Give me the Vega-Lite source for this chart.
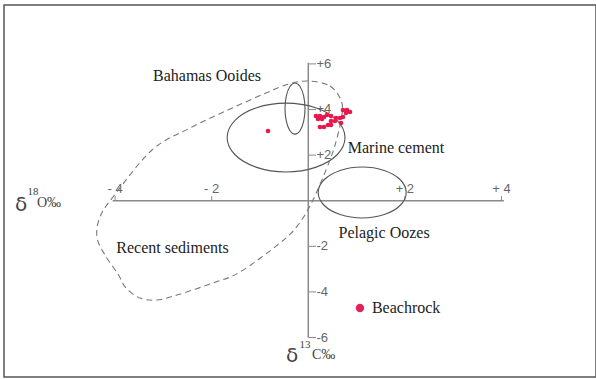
{
  "$schema": "https://vega.github.io/schema/vega-lite/v6.json",
  "width": 592,
  "height": 372,
  "autosize": "none",
  "padding": {"left": 4, "top": 5, "right": 0, "bottom": 2},
  "background": "white",
  "config": {"view": {"stroke": "#555", "strokeWidth": 1.5}},
  "datasets": {
    "axes": [
      {"x": -4.05, "x2": 4.05, "y": 0, "y2": 0},
      {"x": 0, "x2": 0, "y": 6.05, "y2": -6}
    ],
    "ticks": [
      {"x": -4, "x2": -4, "y": 0, "y2": 0.2},
      {"x": -2, "x2": -2, "y": 0, "y2": 0.2},
      {"x": 2, "x2": 2, "y": 0, "y2": 0.2},
      {"x": 4, "x2": 4, "y": 0, "y2": 0.2},
      {"x": 0, "x2": 0.16, "y": 6, "y2": 6},
      {"x": 0, "x2": 0.16, "y": 4, "y2": 4},
      {"x": 0, "x2": 0.16, "y": 2, "y2": 2},
      {"x": 0, "x2": 0.16, "y": -2, "y2": -2},
      {"x": 0, "x2": 0.16, "y": -4, "y2": -4},
      {"x": 0, "x2": 0.16, "y": -6, "y2": -6}
    ],
    "xlabels": [
      {"x": -4, "y": 0.5, "t": "- 4"},
      {"x": -2, "y": 0.5, "t": "- 2"},
      {"x": 2, "y": 0.5, "t": "+ 2"},
      {"x": 4, "y": 0.5, "t": "+ 4"}
    ],
    "ylabels": [
      {"x": 0.17, "y": 6, "t": "+6"},
      {"x": 0.17, "y": 4, "t": "+4"},
      {"x": 0.17, "y": 2, "t": "+2"},
      {"x": 0.17, "y": -2, "t": "-2"},
      {"x": 0.17, "y": -4, "t": "-4"},
      {"x": 0.17, "y": -6, "t": "-6"}
    ],
    "ellipses": [
      {"shape": "Bahamas", "i": 0, "x": -0.068, "y": 4.04},
      {"shape": "Bahamas", "i": 1, "x": -0.096, "y": 4.6},
      {"shape": "Bahamas", "i": 2, "x": -0.171, "y": 5.01},
      {"shape": "Bahamas", "i": 3, "x": -0.275, "y": 5.16},
      {"shape": "Bahamas", "i": 4, "x": -0.379, "y": 5.01},
      {"shape": "Bahamas", "i": 5, "x": -0.454, "y": 4.6},
      {"shape": "Bahamas", "i": 6, "x": -0.482, "y": 4.04},
      {"shape": "Bahamas", "i": 7, "x": -0.454, "y": 3.48},
      {"shape": "Bahamas", "i": 8, "x": -0.379, "y": 3.07},
      {"shape": "Bahamas", "i": 9, "x": -0.275, "y": 2.92},
      {"shape": "Bahamas", "i": 10, "x": -0.171, "y": 3.07},
      {"shape": "Bahamas", "i": 11, "x": -0.096, "y": 3.48},
      {"shape": "Marine", "i": 0, "x": 0.76, "y": 2.77},
      {"shape": "Marine", "i": 1, "x": 0.597, "y": 3.525},
      {"shape": "Marine", "i": 2, "x": 0.15, "y": 4.078},
      {"shape": "Marine", "i": 3, "x": -0.46, "y": 4.28},
      {"shape": "Marine", "i": 4, "x": -1.07, "y": 4.078},
      {"shape": "Marine", "i": 5, "x": -1.517, "y": 3.525},
      {"shape": "Marine", "i": 6, "x": -1.68, "y": 2.77},
      {"shape": "Marine", "i": 7, "x": -1.517, "y": 2.015},
      {"shape": "Marine", "i": 8, "x": -1.07, "y": 1.462},
      {"shape": "Marine", "i": 9, "x": -0.46, "y": 1.26},
      {"shape": "Marine", "i": 10, "x": 0.15, "y": 1.462},
      {"shape": "Marine", "i": 11, "x": 0.597, "y": 2.015},
      {"shape": "Pelagic", "i": 0, "x": 2.027, "y": 0.36},
      {"shape": "Pelagic", "i": 1, "x": 1.905, "y": 0.919},
      {"shape": "Pelagic", "i": 2, "x": 1.572, "y": 1.328},
      {"shape": "Pelagic", "i": 3, "x": 1.116, "y": 1.478},
      {"shape": "Pelagic", "i": 4, "x": 0.66, "y": 1.328},
      {"shape": "Pelagic", "i": 5, "x": 0.327, "y": 0.919},
      {"shape": "Pelagic", "i": 6, "x": 0.205, "y": 0.36},
      {"shape": "Pelagic", "i": 7, "x": 0.327, "y": -0.199},
      {"shape": "Pelagic", "i": 8, "x": 0.66, "y": -0.608},
      {"shape": "Pelagic", "i": 9, "x": 1.116, "y": -0.758},
      {"shape": "Pelagic", "i": 10, "x": 1.572, "y": -0.608},
      {"shape": "Pelagic", "i": 11, "x": 1.905, "y": -0.199}
    ],
    "recent": [
      {"i": 1, "x": 0.014, "y": 5.25},
      {"i": 2, "x": 0.449, "y": 5.03},
      {"i": 3, "x": 0.677, "y": 4.416},
      {"i": 4, "x": 0.698, "y": 3.759},
      {"i": 5, "x": 0.594, "y": 2.75},
      {"i": 6, "x": 0.449, "y": 1.785},
      {"i": 7, "x": 0.097, "y": 0.031},
      {"i": 8, "x": -0.213, "y": -1.066},
      {"i": 9, "x": -0.586, "y": -1.855},
      {"i": 10, "x": -1.414, "y": -3.127},
      {"i": 11, "x": -1.973, "y": -3.61},
      {"i": 12, "x": -2.718, "y": -4.136},
      {"i": 13, "x": -3.133, "y": -4.355},
      {"i": 14, "x": -3.485, "y": -4.268},
      {"i": 15, "x": -3.774, "y": -3.829},
      {"i": 16, "x": -3.94, "y": -3.215},
      {"i": 17, "x": -4.209, "y": -2.382},
      {"i": 18, "x": -4.375, "y": -1.592},
      {"i": 19, "x": -4.313, "y": -0.715},
      {"i": 20, "x": -4.044, "y": 0.162},
      {"i": 21, "x": -3.236, "y": 2.224},
      {"i": 22, "x": -2.449, "y": 3.189},
      {"i": 23, "x": -1.663, "y": 3.978},
      {"i": 24, "x": -0.876, "y": 4.724},
      {"i": 25, "x": -0.4, "y": 5.118}
    ],
    "samples": [
      {"x": 0.159, "y": 3.715}, {"x": 0.242, "y": 3.715}, {"x": 0.325, "y": 3.671},
      {"x": 0.201, "y": 3.583}, {"x": 0.284, "y": 3.583},
      {"x": 0.387, "y": 3.759}, {"x": 0.47, "y": 3.715},
      {"x": 0.573, "y": 3.627}, {"x": 0.656, "y": 3.627}, {"x": 0.718, "y": 3.671},
      {"x": 0.718, "y": 3.978}, {"x": 0.801, "y": 3.978}, {"x": 0.863, "y": 3.89}, {"x": 0.78, "y": 3.846},
      {"x": 0.47, "y": 3.496}, {"x": 0.553, "y": 3.496},
      {"x": 0.677, "y": 3.408},
      {"x": 0.242, "y": 3.232}, {"x": 0.325, "y": 3.232}, {"x": 0.408, "y": 3.32}, {"x": 0.47, "y": 3.32},
      {"x": -0.834, "y": 3.057}
    ],
    "legend": [
      {"x": 1.07, "y": -4.706, "tx": 1.318, "t": "Beachrock"}
    ],
    "names": [
      {"x": -2.097, "y": 5.469, "t": "Bahamas Ooides"},
      {"x": 1.816, "y": 2.311, "t": "Marine cement"},
      {"x": 1.569, "y": -1.417, "t": "Pelagic Oozes"},
      {"x": -2.812, "y": -2.075, "t": "Recent sediments"}
    ],
    "deltas": [
      {"x": -5.948, "y": -0.189},
      {"x": -0.337, "y": -6.82}
    ],
    "isotopes": [
      {"x": -5.7, "y": 0.382, "t": "18"},
      {"x": -0.068, "y": -6.33, "t": "13"}
    ],
    "units": [
      {"x": -5.617, "y": -0.101, "t": "O‰"},
      {"x": 0.077, "y": -6.77, "t": "C‰"}
    ]
  },
  "encoding": {
    "x": {"type": "quantitative", "scale": {"domain": [-6.3, 5.957], "nice": false, "zero": false}, "axis": null},
    "y": {"type": "quantitative", "scale": {"domain": [-7.732, 8.583], "nice": false, "zero": false}, "axis": null}
  },
  "layer": [
    {
      "data": {"name": "axes"},
      "mark": {"type": "rule", "color": "#8a8a8a", "strokeWidth": 1.5},
      "encoding": {"x": {"field": "x"}, "x2": {"field": "x2"}, "y": {"field": "y"}, "y2": {"field": "y2"}}
    },
    {
      "data": {"name": "ticks"},
      "mark": {"type": "rule", "color": "#8a8a8a", "strokeWidth": 1},
      "encoding": {"x": {"field": "x"}, "x2": {"field": "x2"}, "y": {"field": "y"}, "y2": {"field": "y2"}}
    },
    {
      "data": {"name": "xlabels"},
      "mark": {"type": "text", "font": "Liberation Sans", "fontSize": 13, "color": "#666", "align": "center", "baseline": "middle"},
      "encoding": {"x": {"field": "x"}, "y": {"field": "y"}, "text": {"field": "t"}}
    },
    {
      "data": {"name": "ylabels"},
      "mark": {"type": "text", "font": "Liberation Sans", "fontSize": 13, "color": "#666", "align": "left", "baseline": "middle"},
      "encoding": {"x": {"field": "x"}, "y": {"field": "y"}, "text": {"field": "t"}}
    },
    {
      "data": {"name": "ellipses"},
      "mark": {"type": "line", "interpolate": "cardinal-closed", "color": "#555", "strokeWidth": 1.1},
      "encoding": {"x": {"field": "x"}, "y": {"field": "y"}, "detail": {"field": "shape"}, "order": {"field": "i"}}
    },
    {
      "data": {"name": "recent"},
      "mark": {"type": "line", "interpolate": "cardinal-closed", "color": "#777", "strokeWidth": 1.1, "strokeDash": [6, 4]},
      "encoding": {"x": {"field": "x"}, "y": {"field": "y"}, "order": {"field": "i"}}
    },
    {
      "data": {"name": "samples"},
      "mark": {"type": "circle", "color": "#e8184c", "opacity": 1, "size": 22},
      "encoding": {"x": {"field": "x"}, "y": {"field": "y"}}
    },
    {
      "data": {"name": "legend"},
      "mark": {"type": "circle", "color": "#e0245a", "opacity": 1, "size": 70},
      "encoding": {"x": {"field": "x"}, "y": {"field": "y"}}
    },
    {
      "data": {"name": "legend"},
      "mark": {"type": "text", "font": "Liberation Serif", "fontSize": 16, "color": "#222", "align": "left", "baseline": "middle"},
      "encoding": {"x": {"field": "tx"}, "y": {"field": "y"}, "text": {"field": "t"}}
    },
    {
      "data": {"name": "names"},
      "mark": {"type": "text", "font": "Liberation Serif", "fontSize": 16, "color": "#222", "align": "center", "baseline": "middle"},
      "encoding": {"x": {"field": "x"}, "y": {"field": "y"}, "text": {"field": "t"}}
    },
    {
      "data": {"name": "deltas"},
      "mark": {"type": "text", "font": "DejaVu Sans", "fontSize": 20, "color": "#444", "align": "center", "baseline": "middle", "text": "δ"},
      "encoding": {"x": {"field": "x"}, "y": {"field": "y"}}
    },
    {
      "data": {"name": "isotopes"},
      "mark": {"type": "text", "font": "Liberation Serif", "fontSize": 11, "color": "#444", "align": "center", "baseline": "middle"},
      "encoding": {"x": {"field": "x"}, "y": {"field": "y"}, "text": {"field": "t"}}
    },
    {
      "data": {"name": "units"},
      "mark": {"type": "text", "font": "Liberation Serif", "fontSize": 14, "color": "#444", "align": "left", "baseline": "middle"},
      "encoding": {"x": {"field": "x"}, "y": {"field": "y"}, "text": {"field": "t"}}
    }
  ]
}
